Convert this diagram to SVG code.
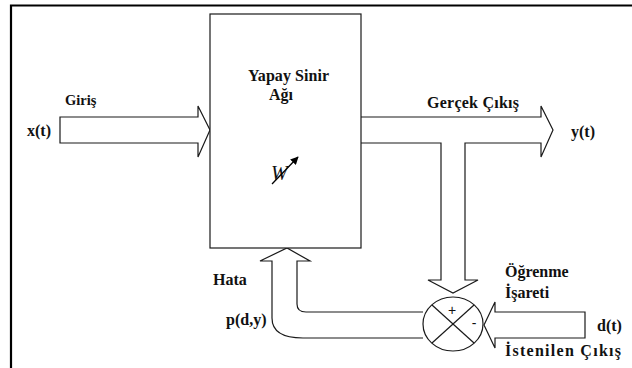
<svg xmlns="http://www.w3.org/2000/svg" width="632" height="368" viewBox="0 0 632 368">
<style>
.ln{fill:#fff;stroke:#1a1a1a;stroke-width:1.2;stroke-linejoin:miter}
.t{font-weight:bold;font-size:16px;fill:#111}
.w{font-style:italic;font-size:20px;fill:#111}
.op{font-size:14px;fill:#111}
</style>
<defs>
<marker id="ah" viewBox="0 0 10 10" refX="9" refY="5" markerWidth="8" markerHeight="8" orient="auto" markerUnits="userSpaceOnUse">
<path d="M0,0 L10,5 L0,10 z" fill="#000"/>
</marker>
</defs>
<rect x="0" y="0" width="632" height="368" fill="#fff"/>
<g id="frame">
<path d="M11,369 L11,5.5 L633,5.5" fill="none" stroke="#000" stroke-width="2.2"/>
</g>
<g id="connectors">
<path id="input" class="ln" d="M60,117 L198,117 L198,106 L210,130 L198,157 L198,143 L60,143 Z"/>
<path id="output" class="ln" d="M361,117 L541,117 L541,106 L553,130 L541,157 L541,143 L465,143 L465,280 L478,280 L453,293 L428,280 L441,280 L441,143 L361,143"/>
<path id="desired" class="ln" d="M585,312 L495,312 L495,302 L484,325 L495,348 L495,338 L585,338 Z"/>
<path id="feedback" class="ln" d="M423,338 L303,338 Q272,338 272,318 L272,261 L260,261 L287,248 L310,261 L297,261 L297,304 Q297,312 306,312 L423,312"/>
</g>
<g font-family="Liberation Serif, Times New Roman, serif">
<g id="nn">
<rect class="ln" x="210" y="14" width="151" height="234"/>
<text class="t" x="248" y="81" textLength="81" lengthAdjust="spacing">Yapay Sinir</text>
<text class="t" x="281" y="100" text-anchor="middle">Ağı</text>
<text class="w" x="271" y="180">W</text>
<line x1="272" y1="184" x2="298" y2="157" stroke="#000" stroke-width="1.3" marker-end="url(#ah)"/>
</g>
<g id="sum">
<ellipse class="ln" cx="453" cy="324" rx="30" ry="27"/>
<line x1="432" y1="305" x2="474" y2="343" stroke="#1a1a1a" stroke-width="1.2"/>
<line x1="474" y1="305" x2="432" y2="343" stroke="#1a1a1a" stroke-width="1.2"/>
<text class="op" x="452" y="315" text-anchor="middle" font-family="Liberation Sans, Arial, sans-serif">+</text>
<text class="op" x="474" y="328" text-anchor="middle" font-family="Liberation Sans, Arial, sans-serif">-</text>
</g>
<g id="labels">
<text class="t" x="65" y="105" style="font-size:14.5px">Giriş</text>
<text class="t" x="27" y="136">x(t)</text>
<text class="t" x="427" y="108" textLength="92" lengthAdjust="spacing">Gerçek Çıkış</text>
<text class="t" x="571" y="137">y(t)</text>
<text class="t" x="213" y="285">Hata</text>
<text class="t" x="226" y="325">p(d,y)</text>
<text class="t" x="505" y="277">Öğrenme</text>
<text class="t" x="505" y="298">İşareti</text>
<text class="t" x="597" y="331">d(t)</text>
<text class="t" x="505" y="356" textLength="116" lengthAdjust="spacing">İstenilen Çıkış</text>
</g>
</g>
</svg>
